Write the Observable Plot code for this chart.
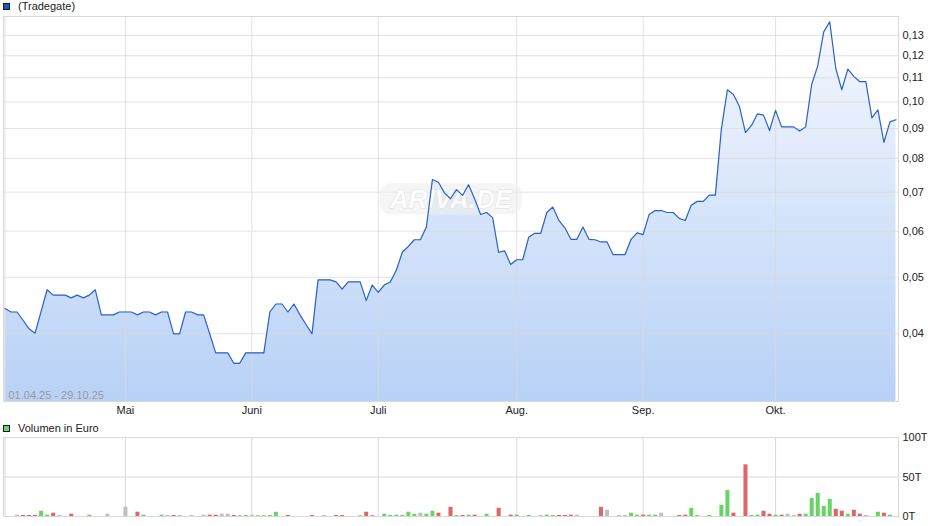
<!DOCTYPE html>
<html><head><meta charset="utf-8">
<script src="https://cdn.jsdelivr.net/npm/d3@7"></script>
<script src="https://cdn.jsdelivr.net/npm/@observablehq/plot@0.6"></script>
<style>
body{margin:0;background:#fff;font-family:"Liberation Sans",Arial,sans-serif;}
#wrap{position:relative;width:940px;height:526px;overflow:hidden;background:#fff;}
.leg{position:absolute;left:3px;font-size:11px;color:#222;display:flex;align-items:center;height:12px;line-height:12px;white-space:nowrap;}
.sq{display:inline-block;width:5px;height:5px;border:1px solid #1a1a1a;margin-right:8px;}
#p1,#p2{position:absolute;left:0;}
</style></head>
<body><div id="wrap">
<div id="p1" style="top:0"></div>
<div id="p2" style="top:420px"></div>
<div class="leg" style="top:0px"><span class="sq" style="background:#1d56c0"></span>(Tradegate)</div>
<div class="leg" style="top:422px"><span class="sq" style="background:#6bd56b"></span>Volumen in Euro</div>
</div>
<script>
// Trading-day closing prices (Tradegate), 01.04.25 - 29.10.25
const price = [
 0.0442,0.0436,0.0436,0.0422,0.0408,0.0401,0.0437,0.0476,0.0466,0.0466,
 0.0466,0.0461,0.0466,0.0461,0.0466,0.0476,0.0431,0.0431,0.0431,0.0436,
 0.0436,0.0436,0.0431,0.0436,0.0436,0.0431,0.0436,0.0436,0.0400,0.0400,
 0.0436,0.0436,0.0431,0.0431,0.0400,0.0371,0.0371,0.0371,0.0356,0.0356,
 0.0371,0.0371,0.0371,0.0371,0.0436,0.0450,0.0450,0.0436,0.0450,0.0431,
 0.0415,0.0400,0.0495,0.0495,0.0495,0.0491,0.0477,0.0491,0.0491,0.0491,
 0.0456,0.0485,0.0471,0.0485,0.0491,0.0514,0.0552,0.0565,0.0580,0.0580,
 0.0610,0.0736,0.0728,0.0698,0.0682,0.0707,0.0691,0.0721,0.0682,0.0641,
 0.0646,0.0633,0.0552,0.0555,0.0526,0.0536,0.0536,0.0586,0.0595,0.0595,
 0.0646,0.0660,0.0626,0.0608,0.0581,0.0581,0.0610,0.0581,0.0580,0.0575,
 0.0575,0.0547,0.0547,0.0547,0.0581,0.0596,0.0592,0.0641,0.0651,0.0651,
 0.0646,0.0646,0.0631,0.0626,0.0665,0.0675,0.0675,0.0692,0.0692,0.0899,
 0.1049,0.1030,0.0982,0.0886,0.0911,0.0954,0.0949,0.0893,0.0967,0.0906,
 0.0906,0.0906,0.0891,0.0906,0.1071,0.1153,0.1319,0.1372,0.1141,0.1049,
 0.1138,0.1106,0.1083,0.1083,0.0939,0.0969,0.0852,0.0924,0.0932];

// Daily volume in thousand euro (T)
const volume = [
 0,0,1.7,1.3,1.3,1.3,6.7,1.7,4.2,1.3,
 0,2.9,0,0,1.7,0,0,2.9,0,0,
 11.7,0,5.4,1.7,0,0,1.7,1.3,1.3,1.3,
 0,1.3,0,1.7,1.7,1.7,2.9,2.9,1.3,1.3,
 1.3,1.7,1.3,1.3,1.3,5.4,0,1.3,0,0,
 0,1.3,0,1.3,0,1.3,1.3,0,0,1.3,
 5.4,1.3,0,2.9,1.3,1.7,1.3,5.4,2.9,4.2,
 2.9,6.7,4.2,0,11.7,1.3,1.3,1.7,1.7,0,
 2.9,0,10.4,0,1.7,1.7,0,1.3,0,1.3,
 1.7,1.3,1.3,1.3,1.7,1.7,0,0,0,11.7,
 7.9,0,1.3,1.3,4.2,1.7,1.7,1.7,1.7,4.2,
 0,0,1.3,1.7,10.4,1.3,0,1.3,0,14.2,
 32.9,4.2,0,65.4,1.3,1.7,6.7,2.9,1.7,1.7,
 2.9,1.3,2.9,2.9,22.9,29.2,12.9,21.7,9.2,6.7,
 2.9,7.9,2.9,1.3,0,5.4,4.2,1.7,0];

// Month starts as trading-day indices
const monthIdx = [0, 20, 41, 62, 85, 106, 128];
const monthLabels = ["", "Mai", "Juni", "Juli", "Aug.", "Sep.", "Okt."];
const yTicks = [0.04, 0.05, 0.06, 0.07, 0.08, 0.09, 0.10, 0.11, 0.12, 0.13];
const volTicks = [0, 50, 100];
const volLabels = ["0T", "50T", "100T"];
const dateRange = "01.04.25 - 29.10.25";

const xDomain = [-0.25, 148.42];
const yDomain = [0.030612, 0.14013];
const grid = "#d9d9d9";
const font = '"Liberation Sans", Arial, sans-serif';

const data = price.map((v, i) => ({i, v}));
const fmt = d => d.toFixed(2).replace(".", ",");

const p1 = Plot.plot({
  width: 940, height: 420,
  marginTop: 16, marginLeft: 3, marginRight: 42, marginBottom: 19,
  style: {fontSize: "11px", fontFamily: font, color: "#222", background: "transparent", overflow: "visible"},
  x: {domain: xDomain, ticks: monthIdx, tickFormat: d => monthLabels[monthIdx.indexOf(d)], tickSize: 0, tickPadding: 5, label: null},
  y: {type: "log", domain: yDomain, axis: "right", ticks: yTicks, tickFormat: fmt, tickSize: 0, tickPadding: 4, label: null},
  marks: [
    Plot.areaY(data, {x: "i", y1: yDomain[0], y2: "v", fill: "url(#pgrad)"}),
    Plot.ruleY(yTicks, {stroke: grid, strokeOpacity: 0.75}),
    Plot.ruleX(monthIdx, {stroke: grid, strokeOpacity: 0.75}),
    Plot.text([dateRange], {frameAnchor: "bottom-left", dx: 5, dy: -6, lineAnchor: "middle", textAnchor: "start", fill: "#9a9a9a", fontSize: 11}),
    Plot.text(["ARIVA.DE"], {frameAnchor: "middle", dy: -9, fontSize: 26, fontWeight: "bold", fontStyle: "italic", fill: "#ffffff", fillOpacity: 0.85, stroke: "#e2e2e2", strokeWidth: 1, className: "wm"}),
    Plot.lineY(data, {x: "i", y: "v", stroke: "#2b62c7", strokeWidth: 1.2}),
    Plot.frame({stroke: grid})
  ]
});
document.getElementById("p1").appendChild(p1);
d3.select(p1).insert("defs", ":first-child").html(
  '<linearGradient id="pgrad" x1="0" y1="0" x2="0" y2="1">' +
  '<stop offset="0" stop-color="#f5f8fe"/><stop offset="1" stop-color="#b8d1f6"/></linearGradient>');
// watermark background box, sized from the watermark text
const wm = p1.querySelector("g.wm") || Array.from(p1.querySelectorAll("text")).find(t => t.textContent === "ARIVA.DE").parentNode;
if (wm) {
  const bb = wm.getBBox();
  d3.select(wm).insert("rect", ":first-child")
    .attr("x", bb.x - 9).attr("y", bb.y - 1).attr("width", bb.width + 18).attr("height", bb.height + 1)
    .attr("rx", 11).attr("fill", "#eeeeee").attr("fill-opacity", 0.6).attr("stroke", "none");
}

const colors = {"1": "#68d468", "-1": "#dd6666", "0": "#bfbfbf"};
const vdata = volume.map((v, i) => ({i, v, dir: i === 0 ? 0 : Math.sign(price[i] - price[i - 1])})).filter(d => d.v > 0);

const p2 = Plot.plot({
  width: 940, height: 106,
  marginTop: 17, marginLeft: 3, marginRight: 42, marginBottom: 10,
  style: {fontSize: "11px", fontFamily: font, color: "#222", background: "transparent", overflow: "visible"},
  x: {domain: xDomain, axis: null},
  y: {domain: [0, 100], axis: "right", ticks: volTicks, tickFormat: d => volLabels[volTicks.indexOf(d)], tickSize: 0, tickPadding: 4, label: null},
  marks: [
    Plot.ruleY([50], {stroke: grid}),
    Plot.ruleX(monthIdx, {stroke: grid}),
    Plot.frame({stroke: grid}),
    Plot.ruleX(vdata, {x: "i", y1: 0, y2: "v", stroke: d => colors[String(d.dir)], strokeWidth: 4})
  ]
});
document.getElementById("p2").appendChild(p2);
</script>
</body></html>
